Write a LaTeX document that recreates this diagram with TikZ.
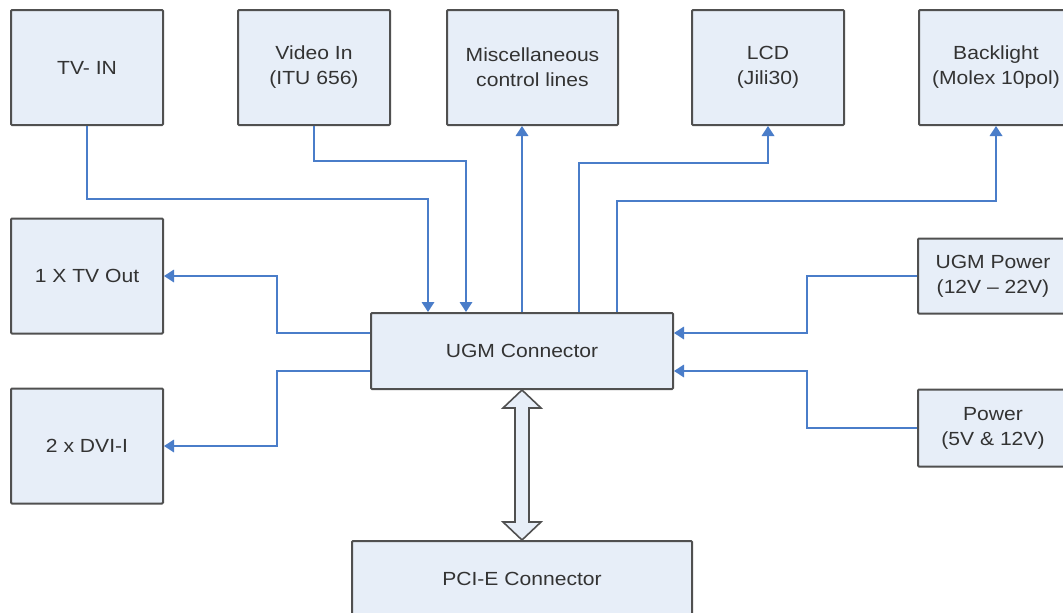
\documentclass[tikz,border=0pt]{standalone}
\usepackage{fontspec}
\setmainfont{Liberation Sans}[FakeStretch=1.11]
\usetikzlibrary{calc,arrows.meta}

\definecolor{boxfill}{RGB}{231,238,248}
\definecolor{boxline}{RGB}{80,80,80}
\definecolor{linkblue}{RGB}{74,125,201}
\definecolor{labeltext}{RGB}{51,51,51}

\tikzset{
  block/.style={draw=boxline, fill=boxfill, line width=2pt, rounded corners=1pt,
    align=center, text=labeltext, inner sep=0pt,
    font=\fontsize{19}{25}\selectfont},
  link/.style={draw=linkblue, line width=1.8pt,
    -{Triangle[length=10pt,width=12.5pt]}},
  busarrow/.style={draw=boxline, fill=boxfill, line width=1.6pt, line join=miter}
}

\begin{document}
\begin{tikzpicture}[x=1pt,y=-1pt]
  \useasboundingbox (0,0) rectangle (1063,613);
  \clip (0,0) rectangle (1063,613);
  \fill[white] (0,0) rectangle (1063,613);

  % upper row
  \node[block, minimum width=152, minimum height=115] (tvin) at (87,67.5) {TV- IN};
  \node[block, minimum width=152, minimum height=115] (videoin) at (314,67.5) {Video In\\(ITU 656)};
  \node[block, minimum width=171, minimum height=115] (misc) at (532.5,67.5) {Miscellaneous\\control lines};
  \node[block, minimum width=152, minimum height=115] (lcd) at (768,67.5) {LCD\\(Jili30)};
  \node[block, minimum width=154, minimum height=115] (backlight) at (996,67.5) {Backlight\\(Molex 10pol)};

  % left column
  \node[block, minimum width=152, minimum height=115] (tvout) at (87,276) {1 X TV Out};
  \node[block, minimum width=152, minimum height=115] (dvi) at (87,446) {2 x DVI-I};

  % centre
  \node[block, minimum width=302, minimum height=76] (ugm) at (522,351) {UGM Connector};
  \node[block, minimum width=340, minimum height=76] (pcie) at (522,579) {PCI-E Connector};

  % right column
  \node[block, minimum width=150, minimum height=75] (ugmpower) at (993,276) {UGM Power\\(12V -- 22V)};
  \node[block, minimum width=150, minimum height=77] (power) at (993,428) {Power\\(5V \& 12V)};

  % inputs from above
  \draw[link] (tvin.south) |- ($(ugm.north)+(-94,-113)$) -- ($(ugm.north)+(-94,0)$);
  \draw[link] (videoin.south) |- ($(ugm.north)+(-56,-151)$) -- ($(ugm.north)+(-56,0)$);

  % outputs upwards
  \draw[link] (ugm.north) -- (ugm.north |- misc.south);
  \draw[link] ($(ugm.north)+(57,0)$) |- ($(lcd.south)+(0,37)$) -- (lcd.south);
  \draw[link] ($(ugm.north)+(95,0)$) |- ($(backlight.south)+(0,75)$) -- (backlight.south);

  % outputs to the left
  \draw[link] ($(ugm.west)+(0,-18)$) -| ($(tvout.east)+(113,0)$) -- (tvout.east);
  \draw[link] ($(ugm.west)+(0,20)$) -| ($(dvi.east)+(113,0)$) -- (dvi.east);

  % power feeds from the right
  \draw[link] (ugmpower.west) -| ($(ugm.east)+(133,-18)$) -- ($(ugm.east)+(0,-18)$);
  \draw[link] (power.west) -| ($(ugm.east)+(133,20)$) -- ($(ugm.east)+(0,20)$);

  % bidirectional bus between the connectors
  \draw[busarrow]
    (ugm.south)
    -- ($(ugm.south)+(19,18)$) -- ($(ugm.south)+(7,18)$)
    -- ($(pcie.north)+(7,-18)$) -- ($(pcie.north)+(19,-18)$)
    -- (pcie.north)
    -- ($(pcie.north)+(-19,-18)$) -- ($(pcie.north)+(-7,-18)$)
    -- ($(ugm.south)+(-7,18)$) -- ($(ugm.south)+(-19,18)$)
    -- cycle;
\end{tikzpicture}
\end{document}
